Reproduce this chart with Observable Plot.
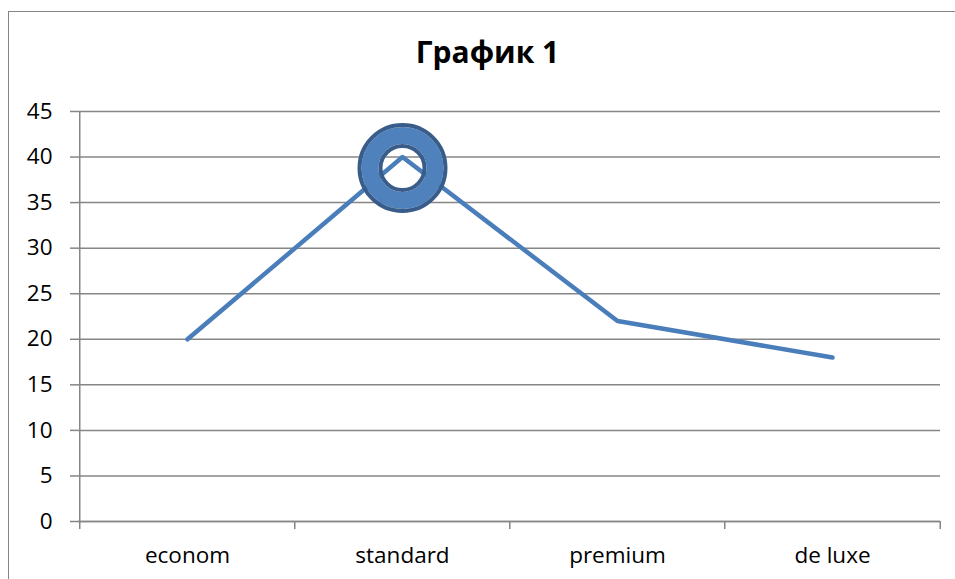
<!DOCTYPE html>
<html>
<head>
<meta charset="utf-8">
<script src="https://cdn.jsdelivr.net/npm/d3@7"></script>
<script src="https://cdn.jsdelivr.net/npm/@observablehq/plot@0.6"></script>
<style>
  html, body { margin: 0; padding: 0; background: #fff; overflow: hidden; width: 955px; height: 579px; }
  #wrap { position: relative; width: 955px; height: 579px; }
  #frame { position: absolute; left: 8px; top: 11px; width: 970px; height: 620px; border: 1.5px solid #868686; box-sizing: border-box; pointer-events: none; }
  #title { position: absolute; left: 9px; width: 957px; top: 32px; text-align: center; font-family: "Open Sans", sans-serif; font-weight: bold; font-size: 30px; line-height: 40px; color: #000; }
  #chart { position: absolute; left: 0; top: 0; }
</style>
</head>
<body>
<div id="wrap">
  <div id="chart"></div>
  <div id="frame"></div>
  <div id="title">График 1</div>
</div>
<script>
const categories = ["econom", "standard", "premium", "de luxe"];
const values = [20, 40, 22, 18];
const yTicks = [0, 5, 10, 15, 20, 25, 30, 35, 40, 45];
const ringCategory = ["standard"];
const ringValue = [38.8];

const W = 955, H = 579;
const mL = 78, mR = 15, mT = 111, mB = 58;
const step = (W - mL - mR) / categories.length;

const data = categories.map((c, i) => ({cat: c, v: values[i]}));
const ring = ringCategory.map((c, i) => ({cat: c, v: ringValue[i]}));
const gray = "#868686";

const plot = Plot.plot({
  width: W, height: H,
  marginLeft: mL, marginRight: mR, marginTop: mT, marginBottom: mB,
  style: {fontFamily: "'Open Sans', sans-serif", fontSize: "22.5px", color: "#000", background: "transparent", overflow: "visible"},
  x: {type: "point", domain: categories, padding: 0.5},
  y: {domain: [0, 45]},
  marks: [
    Plot.gridY(yTicks, {stroke: gray, strokeOpacity: 1, strokeWidth: 1.5}),
    Plot.axisY(yTicks, {tickSize: 8, tickPadding: 18, stroke: gray, strokeWidth: 1.5, label: null, fontSize: 22.5, fill: "#000"}),
    Plot.ruleX([categories[0]], {dx: -step / 2, stroke: gray, strokeWidth: 1.5}),
    Plot.ruleY([0], {stroke: gray, strokeWidth: 1.5}),
    Plot.ruleX(categories, {y1: 0, y2: 0, insetBottom: -8, dx: -step / 2, stroke: gray, strokeWidth: 1.5}),
    Plot.ruleX([categories[categories.length - 1]], {y1: 0, y2: 0, insetBottom: -8, dx: step / 2, stroke: gray, strokeWidth: 1.5}),
    Plot.axisX(categories, {tickSize: 0, tickPadding: 26, label: null, fontSize: 22.5, fill: "#000"}),
    Plot.line(data, {x: "cat", y: "v", stroke: "#4a7ebb", strokeWidth: 4.5, strokeLinejoin: "round", strokeLinecap: "round"}),
    Plot.dot(ring, {x: "cat", y: "v", r: 32.5, fill: "none", stroke: "#4f81bd", strokeWidth: 17}),
    Plot.dot(ring, {x: "cat", y: "v", r: 43, fill: "none", stroke: "#385d8a", strokeWidth: 4}),
    Plot.dot(ring, {x: "cat", y: "v", r: 22, fill: "none", stroke: "#385d8a", strokeWidth: 4})
  ]
});
document.getElementById("chart").appendChild(plot);
</script>
</body>
</html>
